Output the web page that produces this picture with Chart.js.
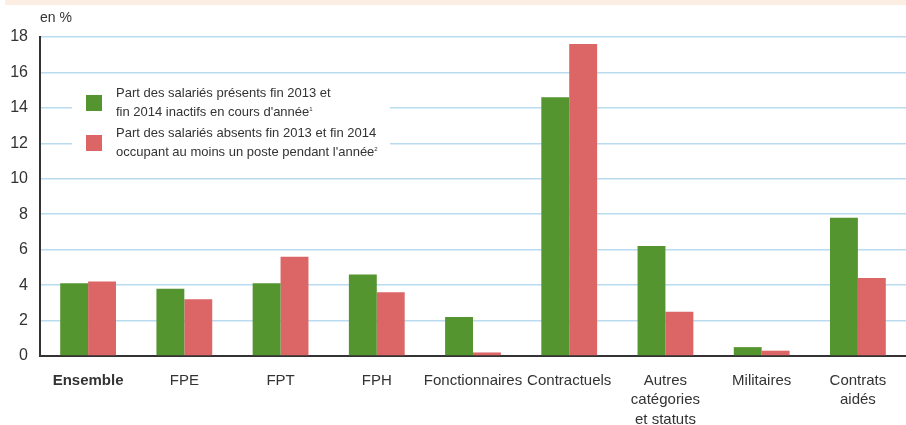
<!DOCTYPE html>
<html>
<head>
<meta charset="utf-8">
<script src="https://cdn.jsdelivr.net/npm/chart.js@4"></script>
<style>
  body { margin: 0; background: #fff; }
  #wrap { position: relative; width: 906px; height: 425px; }
  #band { position: absolute; left: 5px; top: 0; width: 901px; height: 5px; background: #fdeee3; }
  #unit { position: absolute; left: 40px; top: 9px; font: 14px "Liberation Sans Narrow", "Liberation Sans", sans-serif; color: #333; }
  #legend { position: absolute; left: 72px; top: 78px; width: 318px; height: 88px; background: #fff;
            font: 13px "Liberation Sans Narrow", "Liberation Sans", sans-serif; color: #333; }
  .item { position: absolute; left: 14px; }
  .box { position: absolute; left: 0; width: 16px; height: 16px; }
  .txt { position: absolute; left: 30px; width: 290px; line-height: 17px; white-space: nowrap; }
  sup { font-size: 6px; }
</style>
</head>
<body>
<div id="wrap">
  <canvas id="chart"></canvas>
  <div id="band"></div>
  <div id="unit">en %</div>
  <div id="legend"></div>
</div>
<script>
const categories = ['Ensemble', 'FPE', 'FPT', 'FPH', 'Fonctionnaires', 'Contractuels',
    ['Autres', 'catégories', 'et statuts'], 'Militaires', ['Contrats', 'aidés']];
const inactifs = [4.1, 3.8, 4.1, 4.6, 2.2, 14.6, 6.2, 0.5, 7.8];
const absents = [4.2, 3.2, 5.6, 3.6, 0.2, 17.6, 2.5, 0.3, 4.4];
const yTicks = [0, 2, 4, 6, 8, 10, 12, 14, 16, 18];
const seriesLabels = [
    'Part des salariés présents fin 2013 et<br>fin 2014 inactifs en cours d\'année<sup>1</sup>',
    'Part des salariés absents fin 2013 et fin 2014<br>occupant au moins un poste pendant l\'année<sup>2</sup>'
];
const colors = ['#559530', '#dc6566'];

const FONT = '"Liberation Sans Narrow", "Liberation Sans", sans-serif';

// legend as HTML box over the gridlines
const legend = document.getElementById('legend');
[10, 50].forEach((top, i) => {
    legend.innerHTML += '<div class="item" style="top:' + top + 'px">' +
        '<div class="box" style="top:7px;background:' + colors[i] + '"></div>' +
        '<div class="txt" style="top:-4px">' + seriesLabels[i] + '</div></div>';
});

new Chart(document.getElementById('chart'), {
    type: 'bar',
    data: {
        labels: categories,
        datasets: [
            { data: inactifs, backgroundColor: colors[0] },
            { data: absents, backgroundColor: colors[1] }
        ]
    },
    options: {
        responsive: true,
        maintainAspectRatio: false,
        animation: false,
        layout: { padding: { top: 37, right: 0, left: 0, bottom: 0 } },
        datasets: { bar: { categoryPercentage: 0.58, barPercentage: 1.0 } },
        plugins: { legend: { display: false }, tooltip: { enabled: false } },
        scales: {
            x: {
                grid: { display: false },
                border: { color: '#333', width: 2 },
                ticks: {
                    color: '#333',
                    padding: 7,
                    maxRotation: 0,
                    autoSkip: false,
                    font: ctx => ({ family: FONT, size: 15, weight: ctx.index === 0 ? 'bold' : 'normal', lineHeight: 1.3 })
                },
                afterFit: s => { s.height = 69; }
            },
            y: {
                min: 0,
                max: 18,
                afterBuildTicks: s => { s.ticks = yTicks.map(v => ({ value: v })); },
                grid: {
                    color: ctx => ctx.tick && ctx.tick.value === 0 ? 'rgba(0,0,0,0)' : '#b9dbef',
                    lineWidth: 1.5,
                    drawTicks: false
                },
                border: { color: '#333', width: 2 },
                ticks: { color: '#333', padding: 12, font: { family: FONT, size: 16 } },
                afterFit: s => { s.width = 40; }
            }
        }
    }
});
</script>
</body>
</html>
